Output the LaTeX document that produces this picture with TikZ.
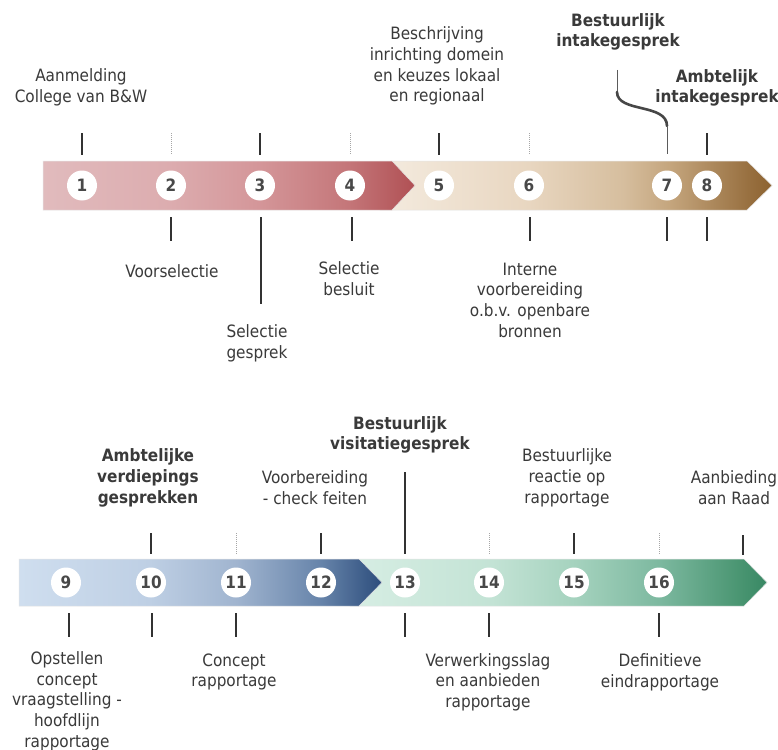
\documentclass[tikz,border=0pt]{standalone}
\usepackage{fontspec}
\setmainfont{DejaVu Sans Condensed}
\definecolor{txtc}{RGB}{58,58,58}
\definecolor{numc}{RGB}{72,72,72}
\definecolor{tickc}{RGB}{50,50,50}
\pgfdeclarehorizontalshading{redsh}{100bp}{rgb(0bp)=(0.882,0.733,0.741); rgb(25bp)=(0.882,0.733,0.741); rgb(42bp)=(0.863,0.675,0.686); rgb(54bp)=(0.831,0.588,0.6); rgb(66bp)=(0.769,0.463,0.475); rgb(75bp)=(0.69,0.314,0.329); rgb(100bp)=(0.69,0.314,0.329)}
\pgfdeclarehorizontalshading{beigesh}{100bp}{rgb(0bp)=(0.957,0.922,0.875); rgb(25bp)=(0.957,0.922,0.875); rgb(44bp)=(0.91,0.839,0.753); rgb(56bp)=(0.839,0.745,0.62); rgb(62bp)=(0.769,0.647,0.49); rgb(72bp)=(0.596,0.439,0.251); rgb(75bp)=(0.549,0.384,0.188); rgb(100bp)=(0.549,0.384,0.188)}
\pgfdeclarehorizontalshading{bluesh}{100bp}{rgb(0bp)=(0.812,0.871,0.937); rgb(25bp)=(0.812,0.871,0.937); rgb(43bp)=(0.745,0.812,0.894); rgb(55bp)=(0.627,0.706,0.812); rgb(66.5bp)=(0.404,0.518,0.667); rgb(75bp)=(0.173,0.302,0.486); rgb(100bp)=(0.173,0.302,0.486)}
\pgfdeclarehorizontalshading{greensh}{100bp}{rgb(0bp)=(0.843,0.933,0.894); rgb(25bp)=(0.843,0.933,0.894); rgb(42bp)=(0.765,0.89,0.835); rgb(52bp)=(0.647,0.824,0.745); rgb(62bp)=(0.49,0.725,0.627); rgb(72bp)=(0.282,0.58,0.439); rgb(75bp)=(0.22,0.533,0.392); rgb(100bp)=(0.22,0.533,0.392)}
\begin{document}
\begin{tikzpicture}[x=1pt,y=-1pt,
  txt/.style={font=\fontsize{17}{20.7}\selectfont, text=txtc, align=center, inner sep=0pt},
  btxt/.style={font=\fontsize{17}{20.7}\selectfont\bfseries, text=txtc, align=center, inner sep=0pt},
  num/.style={circle, fill=white, minimum size=30pt, inner sep=0pt, font=\fontsize{17}{17}\selectfont\bfseries, text=numc},
  tick/.style={line width=2pt, draw=tickc},
  dtick/.style={line width=0.6pt, draw=black!35, dash pattern=on 1pt off 1pt},
  band/.style={draw=black!10, line width=0.5pt}
]
\useasboundingbox (0,0) rectangle (778,749);
\fill[white] (0,0) rectangle (778,749);

% ---------- top band ----------
\shade[shading=beigesh, band] (380,161) -- (747,161) -- (772,185.5) -- (747,210) -- (380,210) -- cycle;
\shade[shading=redsh, band] (43,161) -- (392,161) -- (415,185.5) -- (392,210) -- (43,210) -- cycle;

\node[num] (c1) at (82,185.5) {1};
\node[num] (c2) at (171,185.5) {2};
\node[num] (c3) at (260,185.5) {3};
\node[num] (c4) at (350,185.5) {4};
\node[num] (c5) at (439,185.5) {5};
\node[num] (c6) at (529,185.5) {6};
\node[num] (c7) at (667,185.5) {7};
\node[num] (c8) at (707,185.5) {8};

% top ticks above
\draw[tick] (82,133) -- (82,155);
\draw[dtick] (171,133) -- (171,155);
\draw[tick] (260,133) -- (260,155);
\draw[dtick] (350,133) -- (350,155);
\draw[tick] (439,133) -- (439,155);
\draw[dtick] (529,133) -- (529,155);
\draw[tick] (707,133) -- (707,155);
% curved connector for 7
\coordinate (k7a) at (617,70);
\coordinate (k7b) at (617,92);
\coordinate (k7c) at (667,126);
\coordinate (k7d) at (667,154);
\draw[line width=1pt, draw=tickc!80] (k7a) -- (k7b);
\draw[line width=2.6pt, draw=tickc!90, line cap=round] (k7b) .. controls (617,113) and (667,103) .. (k7c);
\draw[line width=1pt, draw=tickc!80] (k7c) -- (k7d);

% top ticks below
\draw[tick] (171,217) -- (171,241);
\draw[tick] (261,217) -- (261,304);
\draw[tick] (352,217) -- (352,241);
\draw[tick] (530,217) -- (530,241);
\draw[tick] (667,217) -- (667,241);
\draw[tick] (707,217) -- (707,241);

% top texts
\node[txt] (t1) at (81,87) {Aanmelding\\College van B\&W};
\node[txt] (t5) at (437,66) {Beschrijving\\inrichting domein\\en keuzes lokaal\\en regionaal};
\node[btxt] (t7) at (618,32) {Bestuurlijk\\intakegesprek};
\node[btxt] (t8) at (717,88) {Ambtelijk\\intakegesprek};
\node[txt] (b2) at (172,271) {Voorselectie};
\node[txt] (b3) at (257,343) {Selectie\\gesprek};
\node[txt] (b4) at (349,279) {Selectie\\besluit};
\node[txt] (b6) at (530,300) {Interne\\voorbereiding\\o.b.v. openbare\\bronnen};

% ---------- bottom band ----------
\shade[shading=greensh, band] (350,559) -- (744,559) -- (767,582.5) -- (744,606) -- (350,606) -- cycle;
\shade[shading=bluesh, band] (19,559) -- (359,559) -- (382,582.5) -- (359,606) -- (19,606) -- cycle;

\node[num] (c9) at (66,582.5) {9};
\node[num] (c10) at (151,582.5) {10};
\node[num] (c11) at (236,582.5) {11};
\node[num] (c12) at (321,582.5) {12};
\node[num] (c13) at (405,582.5) {13};
\node[num] (c14) at (489,582.5) {14};
\node[num] (c15) at (574,582.5) {15};
\node[num] (c16) at (659,582.5) {16};

% bottom ticks above
\draw[tick] (151,533) -- (151,554);
\draw[dtick] (236,533) -- (236,554);
\draw[tick] (321,533) -- (321,554);
\draw[tick] (405,472) -- (405,554);
\draw[dtick] (489,533) -- (489,554);
\draw[tick] (574,533) -- (574,554);
\draw[dtick] (659,533) -- (659,554);
\draw[tick] (743,535) -- (743,555);

% bottom ticks below
\draw[tick] (69,613) -- (69,637);
\draw[tick] (152,613) -- (152,637);
\draw[tick] (236,613) -- (236,637);
\draw[tick] (405,613) -- (405,637);
\draw[tick] (489,613) -- (489,637);
\draw[tick] (659,613) -- (659,637);

% bottom texts
\node[btxt] (u10) at (148,478) {Ambtelijke\\verdiepings\\gesprekken};
\node[txt] (u12) at (315,488) {Voorbereiding\\- check feiten};
\node[btxt] (u13) at (400,435) {Bestuurlijk\\visitatiegesprek};
\node[txt] (u15) at (567,478) {Bestuurlijke\\reactie op\\rapportage};
\node[txt] (u17) at (734,488) {Aanbieding\\aan Raad};
\node[txt] (d9) at (67,701) {Opstellen\\concept\\vraagstelling -\\hoofdlijn\\rapportage};
\node[txt] (d11) at (234,672) {Concept\\rapportage};
\node[txt] (d14) at (488,682) {Verwerkingsslag\\en aanbieden\\rapportage};
\node[txt] (d16) at (660,672) {Definitieve\\eindrapportage};
\end{tikzpicture}
\end{document}
